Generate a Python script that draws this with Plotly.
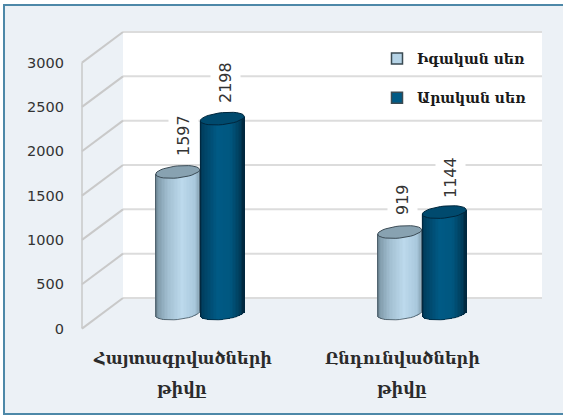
import math
import plotly.graph_objects as go

categories = [["Հայտագրվածների", "թիվը"], ["Ընդունվածների", "թիվը"]]
series_names = ["Իգական սեռ", "Արական սեռ"]
female = [1597, 919]
male = [2198, 1144]
tick_values = [0, 500, 1000, 1500, 2000, 2500, 3000]

W, H = 563, 416
PX_PER_UNIT = 266 / 3000
Y_ZERO_PX = 298
X_ZERO_PX = 200
GROUP_PX = 222

def xd(px):
    return (px - X_ZERO_PX) / GROUP_PX

def yd(py):
    return (Y_ZERO_PX - py) / PX_PER_UNIT

FRONT = 345   # depth offset of the front edge, in value units
BASE = -175   # floor value at cylinder centre
HW, RY, TILT = 22.0, 6.0, 0.10
NS = 30

light_stops = [(0, "#5f7380"), (0.06, "#7f9aaa"), (0.3, "#a3c0d2"), (0.62, "#bcd9ec"), (0.9, "#a9c8dc"), (1, "#8fabbd")]
dark_stops = [(0, "#00263c"), (0.07, "#003f60"), (0.4, "#005a85"), (0.7, "#005780"), (0.92, "#003c5a"), (1, "#00253a")]

def mix(stops, t):
    for (a, ca), (b, cb) in zip(stops, stops[1:]):
        if t <= b:
            f = (t - a) / (b - a)
            rgb = [round(int(ca[i:i+2], 16) * (1 - f) + int(cb[i:i+2], 16) * f) for i in (1, 3, 5)]
            return "rgb(%d,%d,%d)" % tuple(rgb)
    return stops[-1][1]

fig = go.Figure()

def cylinders(values, shift_px, stops, cap_fill, cap_line, name):
    xs, ys, bases, cols = [], [], [], []
    for i, v in enumerate(values):
        cx = xd(X_ZERO_PX + GROUP_PX * i + shift_px)
        for k in range(NS):
            t = (k + 0.5) / NS
            u = 2 * t - 1
            drop = RY * math.sqrt(1 - u * u)
            lift = TILT * u * HW
            b = BASE + (lift - drop) / PX_PER_UNIT
            top = BASE + v + lift / PX_PER_UNIT
            xs.append(cx + u * HW / GROUP_PX)
            bases.append(b)
            ys.append(top - b)
            cols.append(mix(stops, t))
    fig.add_trace(go.Bar(x=xs, y=ys, base=bases, width=(2 * HW / NS + 0.5) / GROUP_PX,
                         marker=dict(color=cols, line=dict(width=0)), showlegend=False,
                         name=name, hoverinfo="skip"))
    for i, v in enumerate(values):
        cx_px = X_ZERO_PX + GROUP_PX * i + shift_px
        # outline: left side, lower arc, right side
        ox, oy = [], []
        for a in range(180, -1, -10):
            th = math.radians(a)
            dx = HW * math.cos(th)
            dy = -RY * math.sin(th) + TILT * dx
            ox.append(xd(cx_px + dx))
            oy.append(BASE + dy / PX_PER_UNIT)
        ox = [ox[0]] + ox + [ox[-1]]
        oy = [BASE + v - TILT * HW / PX_PER_UNIT] + oy + [BASE + v + TILT * HW / PX_PER_UNIT]
        fig.add_trace(go.Scatter(x=ox, y=oy, mode="lines", line=dict(color=cap_line, width=1),
                                 opacity=0.75, showlegend=False, hoverinfo="skip"))
        px, py = [], []
        for a in range(0, 361, 10):
            th = math.radians(a)
            dx = HW * math.cos(th)
            dy = RY * math.sin(th) + TILT * dx
            px.append(xd(cx_px + dx))
            py.append(BASE + v + dy / PX_PER_UNIT)
        fig.add_trace(go.Scatter(x=px, y=py, mode="lines", fill="toself", fillcolor=cap_fill,
                                 line=dict(color=cap_line, width=1), showlegend=False, hoverinfo="skip"))

cylinders(female, -22.3, light_stops, "#88a2b1", "#3c4c56", series_names[0])
cylinders(male, 22.3, dark_stops, "#004a6e", "#00263c", series_names[1])

# legend entries
for nm, col in zip(series_names, ["#b5d3e6", "#005a85"]):
    fig.add_trace(go.Scatter(x=[None], y=[None], mode="markers", name=nm, legendgroup=nm,
                             marker=dict(symbol="square", size=11, color=col,
                                         line=dict(color="#3a4a52", width=1.5))))

shapes = [
    dict(type="rect", xref="paper", yref="paper", x0=4 / W, x1=1.02, y0=1 - 414 / H, y1=1 - 5 / H,
         fillcolor="#ecf1f6", line=dict(color="#4d88a8", width=2), layer="below"),
    dict(type="rect", x0=xd(123), x1=xd(542), y0=0, y1=3000,
         fillcolor="#ffffff", line=dict(width=0), layer="below"),
    dict(type="line", x0=xd(82), x1=xd(82), y0=-FRONT, y1=3000 - FRONT,
         line=dict(color="#c9c9c9", width=1.5), layer="below"),
]
for v in tick_values:
    shapes.append(dict(type="line", x0=xd(123), x1=xd(542), y0=v, y1=v,
                       line=dict(color="#dcdcdc", width=2), layer="below"))
    shapes.append(dict(type="line", x0=xd(82), x1=xd(123), y0=v - FRONT, y1=v,
                       line=dict(color="#c9c9c9", width=2), layer="below"))

annotations = []
def label(x_px, y_val, v):
    annotations.append(dict(x=xd(x_px), y=y_val, text=str(v), showarrow=False, textangle=-90,
                            font=dict(family="DejaVu Sans", size=16, color="#333333"),
                            bgcolor="#ffffff", borderpad=5, xanchor="center", yanchor="middle"))

for x_px, py, v in zip([183, 402], [136, 200], female):
    label(x_px, yd(py), v)
for x_px, py, v in zip([225, 450], [83, 178], male):
    label(x_px, yd(py), v)

for lines, cx in zip(categories, [182, 402]):
    for line, py in zip(lines, [358, 388]):
        annotations.append(dict(x=xd(cx), y=yd(py), text="<b>%s</b>" % line, showarrow=False,
                                font=dict(family="DejaVu Serif", size=16, color="#2b2b2b"),
                                xanchor="center", yanchor="middle"))

fig.update_layout(
    width=W, height=H, margin=dict(l=0, r=0, t=0, b=0), autosize=False,
    paper_bgcolor="#ffffff", plot_bgcolor="rgba(0,0,0,0)",
    shapes=shapes, annotations=annotations, barmode="overlay", bargap=0,
    legend=dict(x=377 / W, y=1 - 43 / H, xanchor="left", yanchor="top",
                bgcolor="rgba(0,0,0,0)", tracegroupgap=18,
                font=dict(family="DejaVu Serif", size=14, color="#1a1a1a", weight="bold")),
    xaxis=dict(range=[xd(0), xd(W)], visible=False, domain=[0, 1], fixedrange=True),
    yaxis=dict(range=[yd(H), yd(0)], domain=[0, 1], showgrid=False, zeroline=False, showline=False,
               tickmode="array", tickvals=[v - FRONT for v in tick_values],
               ticktext=[str(v) for v in tick_values], ticks="", anchor="free", position=64 / W,
               tickfont=dict(family="DejaVu Sans", size=14.5, color="#333333"), fixedrange=True),
)

fig.write_html("out.html", config={"displayModeBar": False},
               post_script="document.body.style.margin='0';")
